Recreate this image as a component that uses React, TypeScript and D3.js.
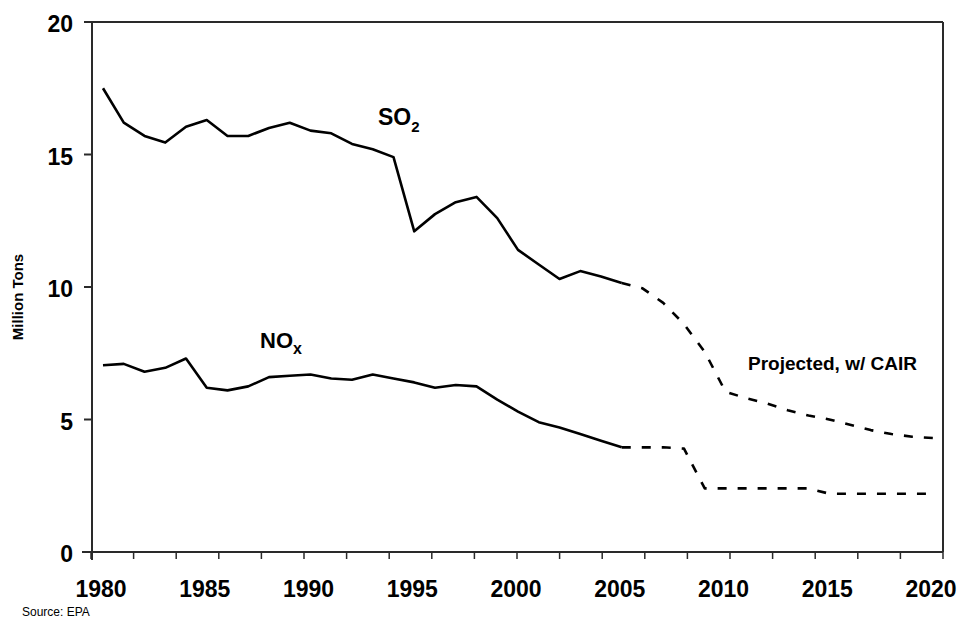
import * as d3 from 'd3';

// SO2 / NOx emissions, million tons (historical to 2005, projected w/ CAIR after)
const histYears = d3.range(1980, 2006);
const projYears = d3.range(2005, 2021);
const so2Hist = [17.5, 16.2, 15.7, 15.45, 16.05, 16.3, 15.7, 15.7, 16.0, 16.2, 15.9, 15.8, 15.4, 15.2, 14.9, 12.1, 12.75, 13.2, 13.4, 12.6, 11.4, 10.85, 10.3, 10.6, 10.4, 10.15];
const so2Proj = [10.15, 9.95, 9.4, 8.6, 7.55, 6.05, 5.8, 5.6, 5.35, 5.15, 5.0, 4.8, 4.6, 4.45, 4.35, 4.3];
const noxHist = [7.05, 7.1, 6.8, 6.95, 7.3, 6.2, 6.1, 6.25, 6.6, 6.65, 6.7, 6.55, 6.5, 6.7, 6.55, 6.4, 6.2, 6.3, 6.25, 5.75, 5.3, 4.9, 4.7, 4.45, 4.2, 3.95];
const noxProj = [3.95, 3.95, 3.95, 3.9, 2.4, 2.4, 2.4, 2.4, 2.4, 2.4, 2.2, 2.2, 2.2, 2.2, 2.2, 2.2];
const xTickLabels = [1980, 1985, 1990, 1995, 2000, 2005, 2010, 2015, 2020];
const yTickLabels = [0, 5, 10, 15, 20];

const W = 962;
const H = 622;
const FONT = 'Arial, "Liberation Sans", Helvetica, sans-serif';

const App = () => {
  const x = d3.scaleLinear().domain([1980, 2020]).range([103, 933]);
  const y = d3.scaleLinear().domain([0, 20]).range([552, 22]);
  // minor tick marks of the category axis, every 2 years
  const xMinor = d3.scaleLinear().domain([0, 20]).range([91, 943]);

  const line = d3.line<[number, number]>()
    .x(d => x(d[0]))
    .y(d => y(d[1]));

  const zip = (yrs: number[], vals: number[]) => yrs.map((yr, i) => [yr, vals[i]] as [number, number]);

  const left = 92;
  const right = 943;
  const top = 22;
  const bottom = 552;

  return (
    <svg width={W} height={H} style={{ position: 'absolute', left: 0, top: 0, background: '#fff' }}>
      {/* frame */}
      <g stroke="#2a2a2a" strokeWidth={2} fill="none">
        <line x1={87} y1={top} x2={right} y2={top} />
        <line x1={right} y1={top} x2={right} y2={bottom} />
        <line x1={left} y1={top} x2={left} y2={bottom + 8} />
        <line x1={82} y1={bottom} x2={right} y2={bottom} />
        {yTickLabels.map(t => (
          <line key={t} x1={84} x2={left} y1={y(t)} y2={y(t)} />
        ))}
        {d3.range(0, 21).map(i => (
          <line key={i} x1={xMinor(i)} x2={xMinor(i)} y1={bottom} y2={bottom + 7} strokeWidth={1.5} />
        ))}
      </g>

      {/* y tick labels */}
      {yTickLabels.map(t => (
        <text key={t} x={73} y={y(t) + 2} textAnchor="end" dominantBaseline="central"
          fontFamily={FONT} fontWeight="bold" fontSize={23} fill="#000">{t}</text>
      ))}

      {/* x tick labels */}
      {xTickLabels.map(t => (
        <text key={t} x={x(t) - 2} y={597} textAnchor="middle"
          fontFamily={FONT} fontWeight="bold" fontSize={23} fill="#000">{t}</text>
      ))}

      {/* axis title */}
      <text transform="translate(23,297) rotate(-90)" textAnchor="middle"
        fontFamily={FONT} fontWeight="bold" fontSize={15} fill="#000">Million Tons</text>

      {/* series */}
      <g fill="none" stroke="#000" strokeWidth={2.6} strokeLinejoin="round">
        <path d={line(zip(histYears, so2Hist)) ?? ''} />
        <path d={line(zip(histYears, noxHist)) ?? ''} />
        <path d={line(zip(projYears, so2Proj)) ?? ''} strokeDasharray="9 11" />
        <path d={line(zip(projYears, noxProj)) ?? ''} strokeDasharray="9 11" />
      </g>

      {/* series labels */}
      <text x={378} y={125} fontFamily={FONT} fontWeight="bold" fontSize={23} fill="#000">
        SO<tspan fontSize={15} dy={7}>2</tspan>
      </text>
      <text x={260} y={348} fontFamily={FONT} fontWeight="bold" fontSize={22} fill="#000">
        NO<tspan fontSize={16} dy={6}>x</tspan>
      </text>
      <text x={748} y={370} fontFamily={FONT} fontWeight="bold" fontSize={19} fill="#000">Projected, w/ CAIR</text>

      <text x={22} y={616} fontFamily={FONT} fontSize={12} fill="#000">Source: EPA</text>
    </svg>
  );
};

export default App;
